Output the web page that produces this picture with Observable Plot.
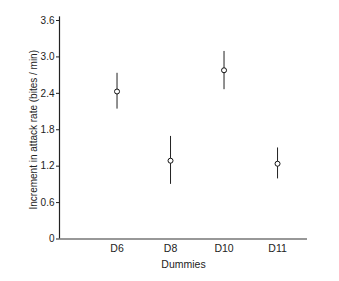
<!DOCTYPE html>
<html>
<head>
<meta charset="utf-8">
<script src="https://cdn.jsdelivr.net/npm/d3@7"></script>
<script src="https://cdn.jsdelivr.net/npm/@observablehq/plot@0.6"></script>
<style>
  html, body { margin: 0; padding: 0; background: #fff; }
  #chart { width: 339px; height: 281px; }
</style>
</head>
<body>
<div id="chart"></div>
<script>
const categories = ["D6", "D8", "D10", "D11"];
const means = [2.43, 1.29, 2.78, 1.24];
const upper = [2.73, 1.69, 3.09, 1.50];
const lower = [2.14, 0.90, 2.46, 0.99];
const yTicks = [0, 0.6, 1.2, 1.8, 2.4, 3.0, 3.6];

const data = categories.map((c, i) => ({
  pos: i + 1, cat: c, mean: means[i], lo: lower[i], hi: upper[i]
}));

const xMin = -0.075, xMax = 4.56;
const font = "Liberation Sans, Arial, sans-serif";

const chart = Plot.plot({
  width: 339,
  height: 281,
  marginLeft: 59,
  marginRight: 32,
  marginTop: 20,
  marginBottom: 42.5,
  style: { fontFamily: font, fontSize: "10px", color: "#222", background: "#fff" },
  x: { domain: [xMin, xMax], axis: null },
  y: { domain: [0, 3.6], axis: null },
  marks: [
    Plot.axisY({
      ticks: yTicks,
      tickSize: 3,
      tickPadding: 2,
      tickFormat: d => d === 0 ? "0" : d.toFixed(1),
      label: "Increment in attack rate (bites / min)",
      labelAnchor: "center",
      labelArrow: "none",
      labelOffset: 30,
      fontSize: 10
    }),
    Plot.axisX({
      ticks: data.map(d => d.pos),
      tickSize: 0,
      tickPadding: 6,
      tickFormat: d => categories[d - 1],
      label: "Dummies",
      labelAnchor: "center",
      labelArrow: "none",
      labelOffset: 29,
      fontSize: 10.5
    }),
    Plot.ruleX([xMin], { y1: 0, y2: 3.66, stroke: "#222", strokeWidth: 1.2, clip: false }),
    Plot.ruleY([0], { stroke: "#333", strokeWidth: 1.2 }),
    Plot.ruleX(data, { x: "pos", y1: "lo", y2: "hi", stroke: "#222", strokeWidth: 1 }),
    Plot.dot(data, { x: "pos", y: "mean", r: 2.5, fill: "#fff", stroke: "#111", strokeWidth: 1 })
  ]
});
document.getElementById("chart").appendChild(chart);
</script>
</body>
</html>
